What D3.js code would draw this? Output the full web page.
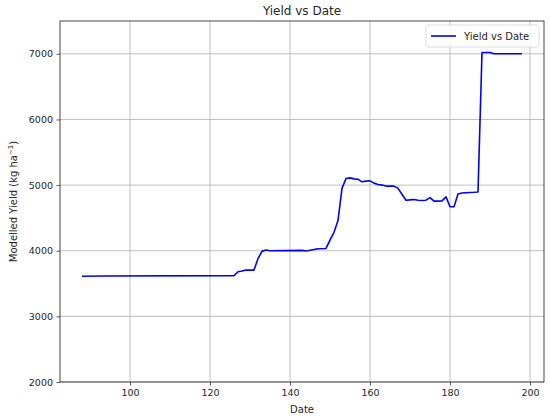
<!DOCTYPE html>
<html><head><meta charset="utf-8">
<script src="https://cdn.jsdelivr.net/npm/d3@7"></script>
<style>body{margin:0;background:#fff;} text{font-family:"DejaVu Sans",sans-serif;fill:#262626;}</style>
</head><body>
<svg id="c" width="550" height="420"></svg>
<script>
const dates = [88,93,126,127,128,129,131,132,133,134,135,143,144,147,149,150,151,152,153,154,155,156,157,158,159,160,161,162,163,164,166,167,168,169,170,171,172,173,174,175,176,177,178,179,180,181,182,183,186,187,188,190,191,198];
const yields = [3610,3615,3620,3680,3690,3705,3705,3880,3990,4010,4000,4005,3995,4030,4035,4160,4280,4460,4950,5100,5110,5095,5090,5050,5060,5065,5030,5010,5000,4985,4985,4950,4860,4770,4775,4780,4770,4765,4770,4810,4755,4755,4760,4820,4670,4670,4865,4880,4890,4895,7020,7020,7000,7000];
const xTicks = [100,120,140,160,180,200];
const yTicks = [2000,3000,4000,5000,6000,7000];
const title = "Yield vs Date";
const xLabel = "Date";
const seriesName = "Yield vs Date";

const svg = d3.select("#c");
const L=60, R=544, T=21, B=382;
const x = d3.scaleLinear().domain([82.5,203.5]).range([L,R]);
const y = d3.scaleLinear().domain([2000,7500]).range([B,T]);

// grid
svg.append("g").selectAll("line").data(xTicks).join("line")
  .attr("x1",d=>x(d)).attr("x2",d=>x(d)).attr("y1",T).attr("y2",B)
  .attr("stroke","#b0b0b0").attr("stroke-width",0.8);
svg.append("g").selectAll("line").data(yTicks).join("line")
  .attr("y1",d=>y(d)).attr("y2",d=>y(d)).attr("x1",L).attr("x2",R)
  .attr("stroke","#b0b0b0").attr("stroke-width",0.8);

// axes
const xa = svg.append("g").attr("transform",`translate(0,${B})`)
  .call(d3.axisBottom(x).tickValues(xTicks).tickSize(3.5).tickPadding(3.5).tickFormat(d3.format("d")));
const ya = svg.append("g").attr("transform",`translate(${L},0)`)
  .call(d3.axisLeft(y).tickValues(yTicks).tickSize(3.5).tickPadding(3.5).tickFormat(d3.format("d")));
[xa,ya].forEach(a=>{a.select(".domain").remove();
  a.selectAll("text").style("font-family","DejaVu Sans").style("font-size","9.5px").attr("fill","#262626");
  a.selectAll("line").attr("stroke","#333").attr("stroke-width",0.8);});

// line
const line = d3.line().x((d,i)=>x(dates[i])).y(d=>y(d));
svg.append("path").datum(yields).attr("d",line).attr("fill","none")
  .attr("stroke","#0000ff").attr("stroke-width",1.6).attr("stroke-linejoin","round");

// frame
svg.append("rect").attr("x",L).attr("y",T).attr("width",R-L).attr("height",B-T)
  .attr("fill","none").attr("stroke","#333").attr("stroke-width",0.9);

// title & labels
svg.append("text").attr("x",(L+R)/2).attr("y",15).attr("text-anchor","middle")
  .style("font-size","12px").text(title);
svg.append("text").attr("x",(L+R)/2).attr("y",413).attr("text-anchor","middle")
  .style("font-size","10px").text(xLabel);
const yl = svg.append("text").attr("transform",`translate(17,${(T+B)/2}) rotate(-90)`)
  .attr("text-anchor","middle").style("font-size","10px");
yl.append("tspan").text("Modelled Yield (kg ha");
yl.append("tspan").attr("dy",-4).style("font-size","7px").text("\u22121");
yl.append("tspan").attr("dy",4).text(")");

// legend
const lg = svg.append("g");
lg.append("rect").attr("x",426).attr("y",25).attr("width",113).attr("height",22).attr("rx",2)
  .attr("fill","#fff").attr("fill-opacity",0.8).attr("stroke","#d6d6d6").attr("stroke-width",0.8);
lg.append("line").attr("x1",431).attr("x2",456).attr("y1",36).attr("y2",36)
  .attr("stroke","#0000ff").attr("stroke-width",1.6);
lg.append("text").attr("x",464).attr("y",39.5).style("font-size","10px").text(seriesName);
</script>
</body></html>
